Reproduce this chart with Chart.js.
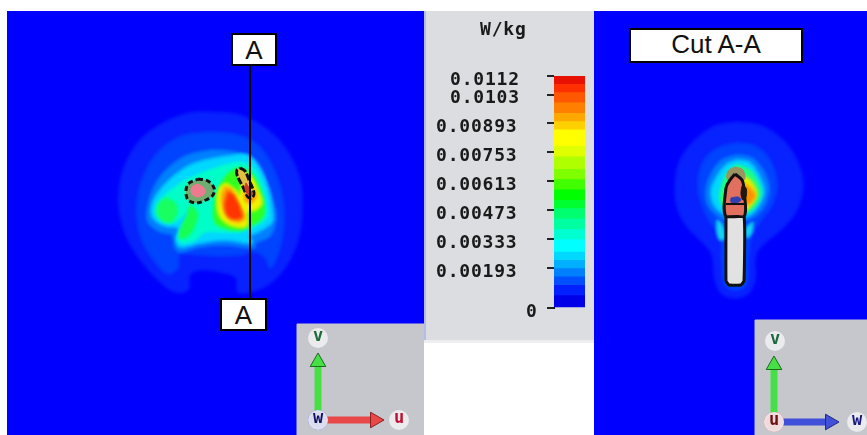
<!DOCTYPE html>
<html>
<head>
<meta charset="utf-8">
<title>SAR cut</title>
<script src="https://cdn.jsdelivr.net/npm/chart.js@4"></script>
<style>
  html, body { margin: 0; padding: 0; background: #fff; }
  body { position: relative; width: 867px; height: 435px; overflow: hidden; }
  canvas { position: absolute; }
  #leftMap { left: 7px; top: 11px; background: #0000ff; }
  #rightMap { left: 594px; top: 11px; background: #0000ff; }
  #scaleBar { left: 424px; top: 11px; background: #dcdde1; filter: blur(0.3px); }
  .tag { position: absolute; background: #fff; border: 2px solid #000; box-sizing: border-box;
         font: 26px "Liberation Sans", sans-serif; color: #111; text-align: center; }
  .edge { position: absolute; }
</style>
</head>
<body>
<canvas id="leftMap" width="417" height="424"></canvas>
<canvas id="scaleBar" width="170" height="331"></canvas>
<canvas id="rightMap" width="273" height="424"></canvas>
<div class="edge" style="left:424px;top:11px;width:2px;height:331px;background:#b4bcea"></div>
<div class="edge" style="left:424px;top:340px;width:170px;height:3px;background:#eeeef0"></div>
<div class="tag" style="left:231px;top:33px;width:46px;height:33px;line-height:31px">A</div>
<div class="tag" style="left:220px;top:298px;width:47px;height:33px;line-height:31px">A</div>
<div class="tag" style="left:629px;top:28px;width:174px;height:35px;line-height:29px">Cut A-A</div>
<script>
// Colour scale (W/kg)
const scaleTicks = [0, 0.00193, 0.00333, 0.00473, 0.00613, 0.00753, 0.00893, 0.0103, 0.0112];
const bandWidths = [0.0006, 0.0005, 0.0004, 0.0004, 0.0004, 0.0004, 0.0006, 0.0005, 0.0005, 0.0005, 0.0004, 0.0005,
                    0.0005, 0.0005, 0.0006, 0.0005, 0.0008, 0.0004, 0.0004, 0.0005, 0.0005, 0.0004, 0.0004];
const bandColors = ['#0000e8', '#0020ff', '#0050ff', '#0080ff', '#00b0ff', '#00d8ff', '#00ffff', '#00ffd0',
                    '#00ffa0', '#00ff70', '#00ff30', '#00ff00', '#40ff00', '#80ff00', '#b0ff00', '#e0ff00',
                    '#ffff00', '#ffd000', '#ffa800', '#ff8000', '#ff5800', '#ff3000', '#e81000'];

// Left cut: outlines of the constant-value areas (image px), outermost first
const left1 = [[210,112],[240,115],[268,130],[288,152],[300,180],[302,210],[298,240],[285,268],[268,285],[250,292],[238,292],[236,278],[220,272],[200,270],[190,275],[188,290],[175,292],[160,282],[142,262],[128,240],[120,215],[119,190],[125,165],[140,140],[165,122],[190,113]];
const left2 = [[210,132],[238,135],[258,145],[272,165],[281,190],[284,215],[282,240],[275,262],[270,268],[265,258],[255,252],[240,255],[220,256],[200,255],[180,255],[178,268],[168,274],[155,262],[143,243],[137,220],[138,195],[146,170],[160,150],[182,136]];
const left3 = [[212,150],[235,152],[252,160],[264,178],[272,198],[276,218],[270,236],[256,243],[254,248],[225,245],[200,247],[180,252],[175,248],[172,235],[160,232],[148,222],[148,205],[155,185],[168,168],[188,155]];
const left4 = [[205,160],[228,156],[248,155],[260,168],[268,188],[272,208],[272,222],[258,232],[250,236],[252,243],[225,240],[200,243],[180,247],[176,240],[178,228],[165,226],[153,218],[152,205],[160,190],[175,175],[190,165]];
const left5 = [[185,180],[210,170],[235,163],[250,165],[260,180],[266,200],[266,218],[255,226],[240,232],[225,232],[205,232],[195,240],[182,243],[178,238],[185,222],[190,210],[175,222],[160,220],[156,208],[165,195]];
const left6a = [[167,198],[175,203],[177,213],[171,222],[162,220],[157,212],[160,202]];
const left6b = [[190,205],[197,212],[195,225],[188,236],[180,238],[181,228],[187,215]];
const left6c = [[238,168],[250,172],[258,185],[264,205],[262,218],[250,226],[240,230],[225,228],[215,222],[215,200],[222,182],[230,172]];
const left7 = [[226,183],[236,190],[240,195],[243,175],[250,175],[258,190],[262,203],[256,210],[248,212],[247,226],[232,226],[220,217],[217,200],[220,187]];
const left8a = [[225,187],[232,190],[240,207],[245,218],[238,222],[228,218],[223,208],[222,195]];
const left8b = [[245,190],[252,188],[256,197],[250,203],[245,200]];
const left9 = [[228,192],[234,196],[242,216],[236,219],[228,216],[225,205]];

// Left cut: head cross sections
const leftRing = [[198,179],[208,181],[214,188],[213,195],[206,200],[196,203],[188,200],[186,192],[188,184]];
const leftCore = [[198,184],[204,188],[205,193],[199,197],[193,195],[191,190],[193,186]];
const leftSlot = [[240,168],[245,171],[249,180],[254,193],[252,198],[248,197],[243,187],[237,175],[237,170]];
const leftSlotHot = [[246,183],[252,193],[251,196],[248,195],[245,188]];
const cutLine = [[250,66],[250,300]];

// Right cut: outlines, outermost first
const right1 = [[737,122],[762,126],[783,140],[797,160],[803,185],[797,210],[783,228],[765,243],[756,255],[755,280],[748,294],[735,298],[722,294],[715,280],[712,255],[703,243],[688,228],[678,210],[675,187],[680,160],[695,140],[715,126]];
const right2 = [[737,143],[755,146],[770,160],[777,185],[772,205],[760,222],[752,235],[748,260],[746,285],[735,290],[725,285],[722,260],[720,235],[710,222],[702,205],[698,185],[703,162],[718,148]];
const right3 = [[737,155],[752,158],[764,172],[769,190],[763,208],[752,218],[735,222],[720,218],[708,205],[706,190],[712,172],[722,160]];
const right4 = [[737,160],[750,163],[760,178],[764,192],[757,208],[748,216],[730,216],[716,208],[711,192],[716,178],[726,165]];
const right5 = [[737,165],[750,170],[758,182],[761,195],[754,208],[745,213],[730,212],[720,200],[722,185],[728,172]];
const right6 = [[745,176],[752,182],[757,194],[752,205],[745,210],[738,200],[740,185]];
const right7 = [[745,184],[752,190],[755,196],[750,203],[744,204],[742,195]];
const rightSideA = [[717,220],[722,224],[725,238],[720,240],[717,232]];
const rightSideB = [[753,222],[752,232],[747,238],[746,228]];

// Right cut: phantom section
const rightCap = [[735,167],[743,170],[744,180],[728,180],[728,171]];
const rightHead = [[735,174],[742,180],[744,190],[744,217],[726,217],[726,188],[730,180]];
const rightBody = [[726,217],[744,217],[744,281],[741,285],[729,285],[726,281]];
const rightBlob = [[731,198],[738,197],[741,200],[736,203],[731,202]];
const rightDark = [[742,186],[746,188],[746,197],[743,200],[741,194]];
const rightBar = [[726,204],[744,204]];

// Orientation boxes and arrows
const leftBox = [[297,324],[430,324],[430,440],[297,440]];
const rightBox = [[755,320],[872,320],[872,440],[755,440]];
const leftV = [[318,418],[318,362]];
const leftU = [[322,420],[375,420]];
const leftOrigin = [[318,420]];
const rightV = [[774,418],[774,365]];
const rightW = [[778,422],[830,422]];
const rightOrigin = [[774,422]];

const closed = pts => pts.concat([pts[0]]).map(p => ({ x: p[0], y: p[1] }));

function area(pts, color, extra) {
    return Object.assign({
        data: closed(pts), showLine: true, fill: 'shape', tension: 0.35, pointRadius: 0,
        backgroundColor: color, borderColor: color, borderWidth: 1
    }, extra || {});
}
// contour areas get the soft edge of the original render
const soft = (pts, color) => area(pts, color, { soft: true });

function stroke(pts, color, width, extra) {
    return Object.assign({
        data: pts.map(p => ({ x: p[0], y: p[1] })), showLine: true, fill: false, pointRadius: 0,
        borderColor: color, borderWidth: width
    }, extra || {});
}
// line with an arrow head at its last point
function arrow(pts, color, head, rotation) {
    const n = pts.length - 1;
    return stroke(pts, color, 7, {
        pointStyle: 'triangle',
        pointRadius: ctx => ctx.dataIndex === n ? 9 : 0,
        pointRotation: rotation,
        pointBackgroundColor: color,
        pointBorderColor: head,
        pointBorderWidth: 1
    });
}
function dot(pts, color, radius, line) {
    return { data: pts.map(p => ({ x: p[0], y: p[1] })), pointRadius: radius, pointBackgroundColor: color,
             pointBorderColor: line, pointBorderWidth: 2 };
}

// blur only the contour datasets, they are drawn first
const softPlugin = {
    id: 'softEdges',
    beforeDatasetsDraw(chart) { chart.ctx.filter = 'blur(1.6px)'; },
    afterDatasetDraw(chart, args) {
        const next = chart.data.datasets[args.index - 1];
        chart.ctx.filter = next && next.soft ? 'blur(1.6px)' : 'blur(0.5px)';
    },
    afterDatasetsDraw(chart) { chart.ctx.filter = 'none'; }
};

// axis letters of the orientation boxes
const letterPlugin = {
    id: 'letters',
    afterDatasetsDraw(chart, args, opts) {
        const c = chart.ctx, sx = chart.scales.x, sy = chart.scales.y;
        opts.items.forEach(it => {
            const x = sx.getPixelForValue(it.x), y = sy.getPixelForValue(it.y);
            c.save();
            c.fillStyle = 'rgba(238,238,242,0.9)';
            c.beginPath(); c.arc(x, y, 10, 0, Math.PI * 2); c.fill();
            c.fillStyle = it.color;
            c.font = 'bold 17px "DejaVu Sans Mono"';
            c.textAlign = 'center'; c.textBaseline = 'middle';
            c.fillText(it.text, x, y - 1);
            c.restore();
        });
    }
};

function mapChart(id, xMin, xMax, sets, letters) {
    return new Chart(document.getElementById(id), {
        type: 'scatter',
        // first dataset is drawn on top
        data: { datasets: sets.slice().reverse() },
        plugins: [softPlugin, letterPlugin],
        options: {
            responsive: false, animation: false,
            layout: { padding: 0, autoPadding: false },
            scales: {
                x: { type: 'linear', min: xMin, max: xMax, display: false },
                y: { type: 'linear', min: 11, max: 435, reverse: true, display: false }
            },
            plugins: { legend: { display: false }, tooltip: { enabled: false }, letters: { items: letters } }
        }
    });
}

const ink = '#111111';

mapChart('leftMap', 7, 424, [
    soft(left1, '#0822ff'), soft(left2, '#0044ff'), soft(left3, '#0080ff'), soft(left4, '#00d8ff'),
    soft(left5, '#00ffc8'), soft(left6a, '#18ff60'), soft(left6b, '#18ff50'), soft(left6c, '#30ff20'),
    soft(left7, '#f0f000'), soft(left8a, '#ff9800'), soft(left8b, '#ff9800'), soft(left9, '#ff3400'),
    area(leftRing, '#6fae70', { borderColor: ink, borderWidth: 3, borderDash: [5, 3] }),
    area(leftCore, '#ee7a90'),
    area(leftSlot, '#e4c040', { borderColor: ink, borderWidth: 3, borderDash: [7, 2] }),
    area(leftSlotHot, '#d03820'),
    stroke(cutLine, '#000000', 2),
    area(leftBox, '#c5c7cd', { tension: 0 }),
    arrow(leftV, '#46e046', '#1d6a1d', 0),
    arrow(leftU, '#e84848', '#8a2020', 90),
    dot(leftOrigin, '#3040c8', 9, '#5060d8')
], [
    { x: 318, y: 338, text: 'v', color: '#1d6a3a' },
    { x: 399, y: 420, text: 'u', color: '#c01030' },
    { x: 318, y: 420, text: 'w', color: '#101060' }
]);

mapChart('rightMap', 594, 867, [
    soft(right1, '#0822ff'), soft(right2, '#0044ff'), soft(right3, '#0080ff'), soft(right4, '#00d8ff'),
    soft(right5, '#20ff80'), soft(right6, '#e8e800'), soft(right7, '#ff9000'),
    soft(rightSideA, '#10d8f0'), soft(rightSideB, '#10d8f0'),
    area(rightCap, '#9a9460'),
    area(rightHead, '#e2705f', { borderColor: ink, borderWidth: 3 }),
    area(rightBody, '#e2e2e2', { borderColor: ink, borderWidth: 3, tension: 0.1 }),
    area(rightBlob, '#3040b0'),
    area(rightDark, '#201810'),
    stroke(rightBar, ink, 2),
    area(rightBox, '#c5c7cd', { tension: 0 }),
    arrow(rightV, '#46e046', '#1d6a1d', 0),
    arrow(rightW, '#4050d8', '#202880', 90),
    dot(rightOrigin, '#e02828', 9, '#f07070')
], [
    { x: 775, y: 341, text: 'v', color: '#1d6a3a' },
    { x: 857, y: 422, text: 'w', color: '#181880' },
    { x: 774, y: 422, text: 'u', color: '#701010' }
]);

// Colour bar, a stacked single bar on a real W/kg axis
const tickLabelLeft = { 0: 102, 0.00193: 12, 0.00333: 12, 0.00473: 12, 0.00613: 12, 0.00753: 12, 0.00893: 12, 0.0103: 26, 0.0112: 26 };
const barTextPlugin = {
    id: 'barText',
    afterDraw(chart) {
        const c = chart.ctx, sy = chart.scales.y;
        c.save();
        c.fillStyle = '#1a1a1a';
        c.font = 'bold 18px "DejaVu Sans Mono"';
        c.letterSpacing = '0.8px';
        c.textBaseline = 'middle';
        sy.ticks.forEach(t => {
            c.fillText(String(t.value), tickLabelLeft[t.value], sy.getPixelForValue(t.value) + 4);
        });
        c.fillText('W/kg', 56, 19);
        c.restore();
    }
};

new Chart(document.getElementById('scaleBar'), {
    type: 'bar',
    data: {
        labels: ['W/kg'],
        datasets: bandWidths.map((w, i) => ({
            data: [w], backgroundColor: bandColors[i], borderWidth: 0,
            barPercentage: 1, categoryPercentage: 1
        }))
    },
    plugins: [barTextPlugin],
    options: {
        responsive: false, animation: false,
        layout: { padding: { top: 65, bottom: 34, right: 9, left: 0 } },
        scales: {
            x: { stacked: true, display: false },
            y: {
                stacked: true, min: 0, max: 0.0112,
                afterBuildTicks: axis => { axis.ticks = scaleTicks.map(v => ({ value: v })); },
                afterFit: axis => { axis.width = 130; },
                border: { color: '#111', width: 1 },
                grid: { drawOnChartArea: false, color: '#222', lineWidth: 2, tickLength: 7 },
                ticks: { display: false }
            }
        },
        plugins: { legend: { display: false }, tooltip: { enabled: false } }
    }
});
</script>
</body>
</html>
